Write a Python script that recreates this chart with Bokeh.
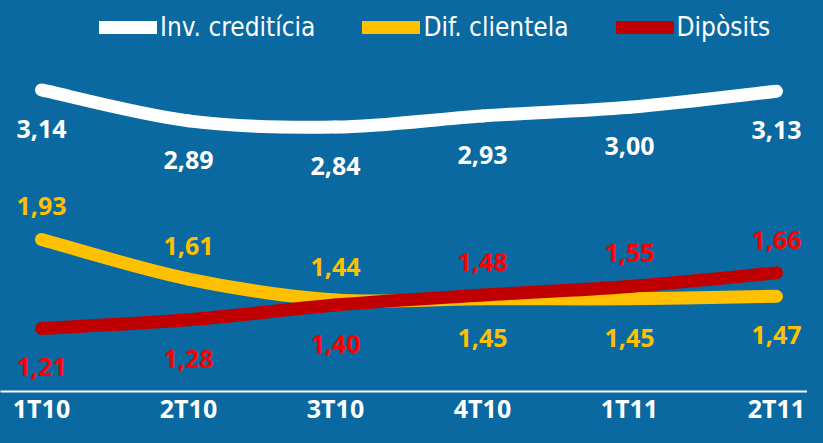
import numpy as np
from bokeh.plotting import figure
from bokeh.models import (Range1d, FixedTicker, ColumnDataSource, Legend,
                          LegendItem, GlobalInlineStyleSheet)
from bokeh.core.properties import value
from bokeh.embed import file_html
from bokeh.resources import INLINE

# ---- data ----
quarters = ["1T10", "2T10", "3T10", "4T10", "1T11", "2T11"]
inv_crediticia = [3.14, 2.89, 2.84, 2.93, 3.00, 3.13]
dif_clientela = [1.93, 1.61, 1.44, 1.45, 1.45, 1.47]
diposits = [1.21, 1.28, 1.40, 1.48, 1.55, 1.66]
series_names = ["Inv. creditícia", "Dif. clientela", "Dipòsits"]

# label placement relative to the line
inv_side = ["below"] * 6
dif_side = ["above", "above", "above", "below", "below", "below"]
dip_side = ["below", "below", "below", "above", "above", "above"]

BG = "#0a69a0"
line_colors = ["#ffffff", "#ffc000", "#c00000"]
label_colors = ["#ffffff", "#ffc000", "#ff0000"]

xs = list(range(len(quarters)))

p = figure(width=807, height=427, output_backend="svg", toolbar_location=None,
           x_range=Range1d(-0.279, 5.211), y_range=Range1d(0.70, 3.864),
           min_border=0)
p.background_fill_color = BG
p.border_fill_color = BG
p.outline_line_color = None
p.xgrid.visible = False
p.ygrid.visible = False
p.yaxis.visible = False
p.stylesheets = [GlobalInlineStyleSheet(css="body{background-color:%s;}" % BG)]

ax = p.xaxis[0]
ax.ticker = FixedTicker(ticks=xs)
ax.major_label_overrides = {i: q for i, q in enumerate(quarters)}
ax.axis_line_color = "white"
ax.axis_line_width = 2
ax.major_tick_line_color = None
ax.minor_tick_line_color = None
ax.major_tick_out = 0
ax.major_tick_in = 0
ax.axis_label_standoff = 0
ax.major_label_text_color = "white"
ax.major_label_text_font = "Open Sans"
ax.major_label_text_font_style = "bold"
ax.major_label_text_font_size = "25px"
ax.major_label_standoff = -1


def bezier_segments(x, y):
    x = np.asarray(x, float)
    y = np.asarray(y, float)
    px = np.concatenate([[x[0]], x, [x[-1]]])
    py = np.concatenate([[y[0]], y, [y[-1]]])
    d = dict(x0=[], y0=[], x1=[], y1=[], cx0=[], cy0=[], cx1=[], cy1=[])
    for i in range(len(x) - 1):
        x0, x1, x2, x3 = px[i:i + 4]
        y0, y1, y2, y3 = py[i:i + 4]
        d["x0"].append(x1); d["y0"].append(y1)
        d["x1"].append(x2); d["y1"].append(y2)
        d["cx0"].append(x1 + (x2 - x0) / 6); d["cy0"].append(y1 + (y2 - y0) / 6)
        d["cx1"].append(x2 - (x3 - x1) / 6); d["cy1"].append(y2 - (y3 - y1) / 6)
    return d


items = []
for vals, sides, name, lc, tc in zip([inv_crediticia, dif_clientela, diposits],
                                     [inv_side, dif_side, dip_side],
                                     series_names, line_colors, label_colors):
    src = ColumnDataSource(bezier_segments(xs, vals))
    bez = p.bezier(x0="x0", y0="y0", x1="x1", y1="y1", cx0="cx0", cy0="cy0",
                   cx1="cx1", cy1="cy1", source=src, line_color=lc,
                   line_width=13, line_cap="round")
    lsrc = ColumnDataSource(dict(
        x=xs, y=vals,
        t=[("%.2f" % v).replace(".", ",") for v in vals],
        off=[-33 if s == "above" else 39 for s in sides]))
    p.text(x="x", y="y", text="t", source=lsrc, y_offset="off",
           text_color=tc, text_font=value("Open Sans"), text_font_style="bold",
           text_font_size="25px", text_align="center", text_baseline="middle")
    items.append(LegendItem(label=name, renderers=[bez], index=0))

legend = Legend(items=items, orientation="horizontal", location=(99, 349),
                glyph_width=58, glyph_height=30, label_height=30,
                label_standoff=3, spacing=47, padding=0, margin=0,
                border_line_color=None, background_fill_alpha=0,
                label_text_color="white",
                label_text_font="'DejaVu Sans Condensed', Roboto",
                label_text_font_size="26px")
p.add_layout(legend)

open("out.html", "w").write(file_html(p, INLINE))
